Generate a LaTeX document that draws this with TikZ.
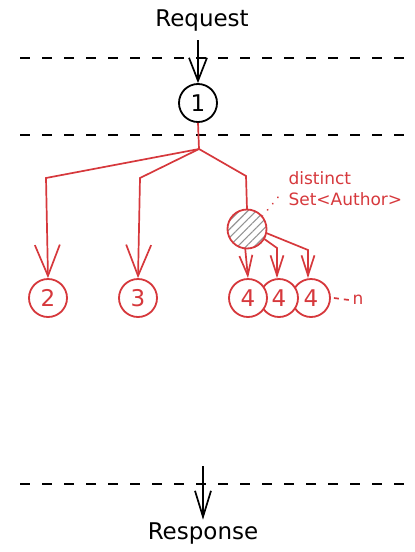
\documentclass[tikz,border=0pt]{standalone}
\usepackage{fontspec}
\setmainfont{DejaVu Sans}
\usetikzlibrary{arrows.meta,patterns.meta}
\definecolor{sk}{RGB}{214,56,60}
\begin{document}
\begin{tikzpicture}[x=1pt,y=-1pt,
  sep/.style={line width=1.8pt,dash pattern=on 10pt off 12pt},
  circ/.style={circle,draw,minimum size=38pt,inner sep=0pt,line width=1.8pt,fill=white,font=\fontsize{23}{23}\selectfont},
  rcirc/.style={circ,draw=sk,text=sk},
  lbl/.style={font=\fontsize{23}{23}\selectfont},
  rline/.style={draw=sk,line width=1.7pt},
  bigtip/.style={-{Straight Barb[length=31pt,width=25pt]}},
  midtip/.style={-{Straight Barb[length=23pt,width=18pt]}},
  smalltip/.style={-{Straight Barb[length=20pt,width=13pt]}}]
\useasboundingbox (0,0) rectangle (415,552);
% separators
\draw[sep] (20,58) -- (407,58);
\draw[sep] (20,135) -- (407,135);
\draw[sep] (20,484) -- (407,484);
% nodes
\node[lbl] (req) at (202,21) {Request};
\node[lbl] (resp) at (203,534) {Response};
\node[circ] (n1) at (198,103) {1};
\node[rcirc] (n2) at (48,298) {2};
\node[rcirc] (n3) at (138,298) {3};
\node[rcirc] (n4c) at (311,298) {4};
\node[rcirc] (n4b) at (279,298) {4};
\node[rcirc] (n4a) at (248,298) {4};
\node[circle,draw=sk,line width=1.8pt,minimum size=39pt,inner sep=0pt,
      pattern={Lines[angle=45,distance=6pt,line width=1.2pt]},pattern color=gray!85] (hs) at (247,229) {};
\node[text=sk,anchor=west,align=left,font=\fontsize{17}{21}\selectfont] (dist) at (285,189) {distinct\\Set<Author>};
\node[text=sk,font=\fontsize{17}{17}\selectfont] (nn) at (358,300) {n};
% coordinates
\coordinate (j) at (199,149);
\coordinate (b2) at (46,178);
\coordinate (b3) at (140,178);
\coordinate (bh) at (246,176);
\coordinate (b4b) at (277,248);
\coordinate (b4c) at (308,250);
\coordinate (lead) at (279,196);
\coordinate (rs) at (203,466);
\coordinate (rq) at (198,40);
% connectors
\draw[line width=1.7pt,midtip] (rq) -- (n1.north);
\draw[line width=1.7pt,-{Straight Barb[length=26pt,width=16pt]}] (rs) -- (resp.north);
\draw[rline] (n1.south) -- (j);
\draw[rline,bigtip] (j) -- (b2) -- (n2.north);
\draw[rline,bigtip] (j) -- (b3) -- (n3.north);
\draw[rline] (j) -- (bh) -- (hs.north);
\draw[rline,smalltip] (hs.-95) -- (n4a.north);
\draw[rline,smalltip] (hs.-30) -- (b4b) -- (b4b |- n4b.north);
\draw[rline,smalltip] (hs.-12) -- (b4c) -- (b4c |- n4c.north);
\draw[draw=sk,line width=2pt,line cap=round,dash pattern=on 0.1pt off 8pt] (hs.40) -- (lead);
\draw[draw=sk,line width=1.7pt,dash pattern=on 5pt off 5pt] ([xshift=3pt]n4c.east) -- (nn.west);
\end{tikzpicture}
\end{document}
